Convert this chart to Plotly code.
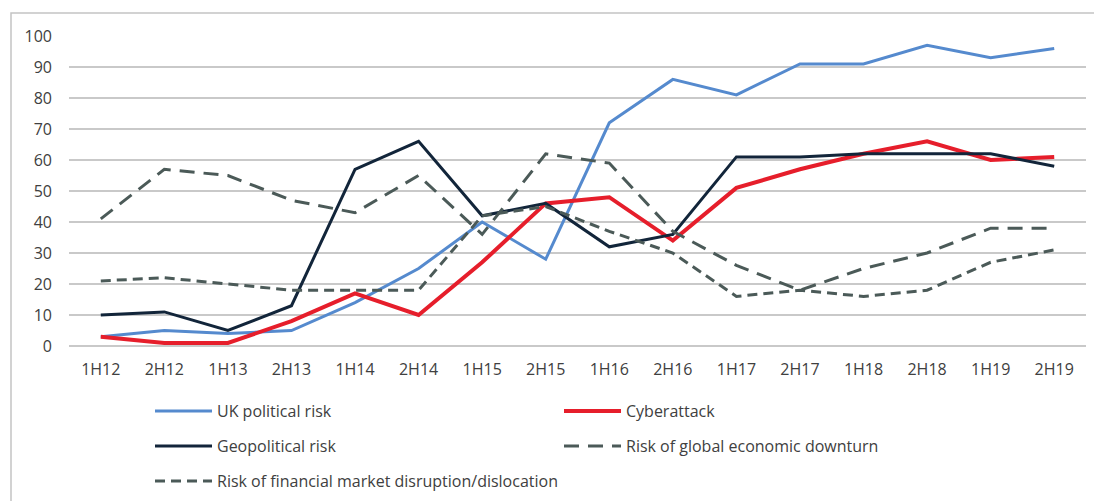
import plotly.graph_objects as go

periods = ["1H12", "2H12", "1H13", "2H13", "1H14", "2H14", "1H15", "2H15",
           "1H16", "2H16", "1H17", "2H17", "1H18", "2H18", "1H19", "2H19"]

uk_political = [3, 5, 4, 5, 14, 25, 40, 28, 72, 86, 81, 91, 91, 97, 93, 96]
cyberattack = [3, 1, 1, 8, 17, 10, 27, 46, 48, 34, 51, 57, 62, 66, 60, 61]
geopolitical = [10, 11, 5, 13, 57, 66, 42, 46, 32, 36, 61, 61, 62, 62, 62, 58]
global_downturn = [41, 57, 55, 47, 43, 55, 36, 62, 59, 37, 26, 18, 25, 30, 38, 38]
financial_disruption = [21, 22, 20, 18, 18, 18, 42, 45, 37, 30, 16, 18, 16, 18, 27, 31]

y_ticks = [0, 10, 20, 30, 40, 50, 60, 70, 80, 90, 100]

series = [
    ("UK political risk", uk_political, "#558ACE", 3, "solid", "legend"),
    ("Cyberattack", cyberattack, "#E61E2B", 4, "solid", "legend"),
    ("Geopolitical risk", geopolitical, "#12253A", 3, "solid", "legend2"),
    ("Risk of global economic downturn", global_downturn, "#4B5A58", 3, "15px,9px", "legend2"),
    ("Risk of financial market disruption/dislocation", financial_disruption, "#4B5A58", 3, "10px,6px", "legend3"),
]

fig = go.Figure()
for name, vals, color, width, dash, leg in series:
    fig.add_trace(go.Scatter(
        x=periods, y=vals, name=name, mode="lines",
        line=dict(color=color, width=width, dash=dash),
        legend=leg, cliponaxis=False,
    ))

W, H = 1094, 501
L, R, T, B = 69, 8, 36, 155
pw, ph = W - L - R, H - T - B

def px_x(px):
    return (px - L) / pw

def px_y(py):
    return (H - B - py) / ph

legend_common = dict(
    orientation="h", xanchor="left", yanchor="middle",
    font=dict(family="Open Sans", size=16, color="#404040"),
    entrywidth=337, entrywidthmode="pixels", itemwidth=57,
    bgcolor="rgba(0,0,0,0)", borderwidth=0, tracegroupgap=0,
)

fig.update_layout(
    width=W, height=H,
    margin=dict(l=L, r=R, t=T, b=B, pad=0, autoexpand=False),
    paper_bgcolor="white", plot_bgcolor="white",
    font=dict(family="Open Sans", size=16, color="#404040"),
    xaxis=dict(
        type="category", range=[-0.5, len(periods) - 0.5],
        showgrid=False, showline=False, zeroline=False,
        ticks="", ticklabelstandoff=12, automargin=False,
        tickfont=dict(family="Open Sans", size=16, color="#404040"),
    ),
    yaxis=dict(
        range=[0, 100], tickvals=y_ticks,
        showgrid=True, gridcolor="#C9C9C9", gridwidth=1.5,
        zeroline=True, zerolinecolor="#C9C9C9", zerolinewidth=1.5,
        showline=False, ticks="", ticklabelstandoff=16, automargin=False,
        tickfont=dict(family="Open Sans", size=16, color="#404040"),
    ),
    legend=dict(x=px_x(150), y=px_y(411), **legend_common),
    legend2=dict(x=px_x(150), y=px_y(446), **legend_common),
    legend3=dict(x=px_x(150), y=px_y(481), **legend_common),
    showlegend=True,
    shapes=[dict(
        type="rect", xref="paper", yref="paper",
        x0=px_x(11), x1=px_x(1110), y0=px_y(530), y1=px_y(13),
        line=dict(color="#C4C4C4", width=1.5), fillcolor="rgba(0,0,0,0)",
        layer="below",
    )],
)

fig.write_html("out.html", config={"displayModeBar": False},
               post_script="document.body.style.margin='0px';")
